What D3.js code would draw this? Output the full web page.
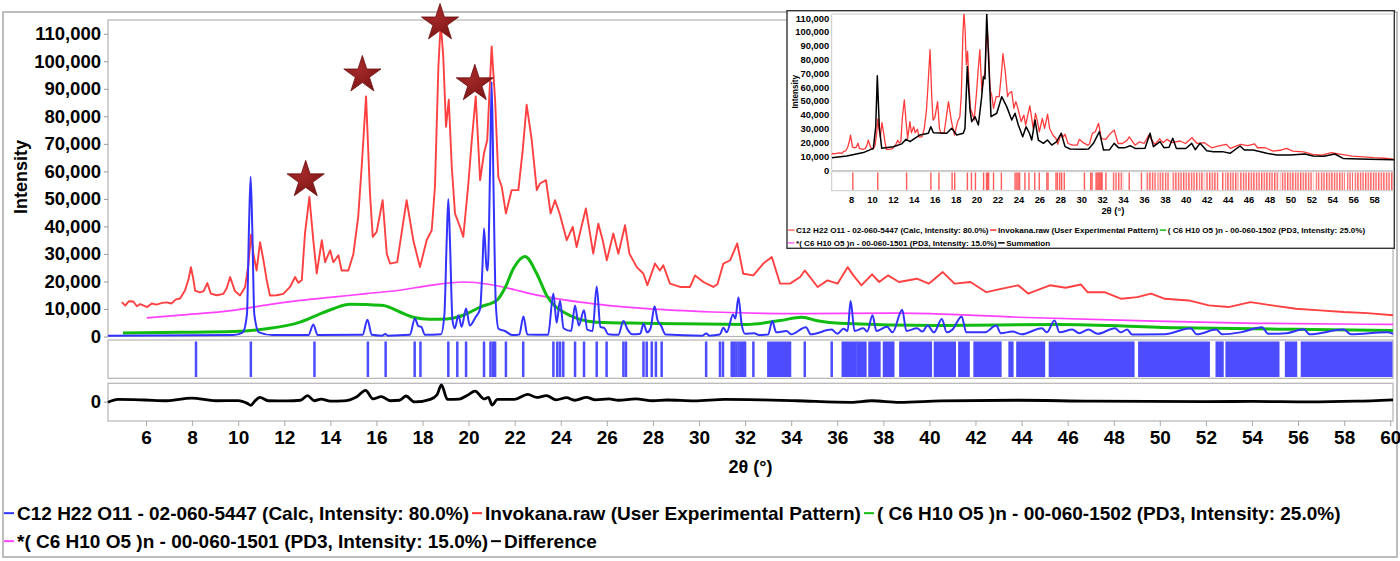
<!DOCTYPE html>
<html>
<head>
<meta charset="utf-8">
<script src="https://cdn.jsdelivr.net/npm/d3@7"></script>
<style>
  body { margin: 0; background: #fff; }
  text { font-family: "Liberation Sans", Arial, sans-serif; font-weight: bold; fill: #000; }
</style>
</head>
<body>
<script>
// ---- data (2theta in degrees, intensity in counts) ----
var experimental = [
  [4.95,12500],[5.1,11200],[5.25,12800],[5.45,12700],[5.6,11000],[5.75,11800],[5.88,11300],[6.05,10700],
  [6.25,12000],[6.46,11600],[6.7,12200],[6.9,12400],[7.1,12000],[7.3,13500],[7.48,13800],[7.69,16700],
  [7.85,21000],[7.95,25200],[8.05,21000],[8.13,16700],[8.34,16000],[8.5,16500],[8.66,19400],[8.81,15600],
  [9.07,15000],[9.36,15500],[9.5,17500],[9.65,21600],[9.86,16500],[10.08,14900],[10.3,18000],[10.44,26000],
  [10.56,37000],[10.66,30000],[10.8,24000],[10.95,34300],[11.09,28000],[11.24,20400],[11.38,14900],
  [11.67,15000],[11.96,15500],[12.25,18000],[12.47,21600],[12.61,19500],[12.76,20500],[12.9,37500],
  [13.09,50700],[13.26,35000],[13.41,22900],[13.63,35000],[13.77,27000],[13.99,31300],[14.13,27000],
  [14.35,29500],[14.49,24000],[14.78,24000],[15.0,30000],[15.21,43500],[15.36,61700],[15.55,87200],
  [15.72,52000],[15.84,36200],[16.01,38000],[16.27,49500],[16.45,30000],[16.59,26500],[16.9,27000],
  [17.1,38000],[17.31,49500],[17.6,35000],[17.89,25200],[18.18,35000],[18.4,38600],[18.54,54400],
  [18.69,98100],[18.79,114000],[18.9,101800],[19.02,76200],[19.14,86000],[19.27,61700],[19.41,44700],
  [19.63,39800],[19.77,36200],[19.99,55600],[20.14,71400],[20.31,87200],[20.5,56800],[20.67,66600],
  [20.81,71400],[21.0,105400],[21.15,86000],[21.29,58000],[21.44,54400],[21.62,44700],[21.87,53200],
  [22.16,53200],[22.35,67800],[22.52,84200],[22.74,71400],[22.96,53200],[23.1,55600],[23.36,56800],
  [23.56,44700],[23.75,49500],[23.95,44700],[24.26,35000],[24.52,39800],[24.69,32500],[24.9,40000],
  [25.09,46500],[25.27,37400],[25.41,30100],[25.63,41000],[25.82,35000],[26.0,27700],[26.28,37400],
  [26.5,30100],[26.79,40400],[26.98,30100],[27.3,25200],[27.59,22800],[27.76,18600],[28.09,26500],
  [28.3,24000],[28.45,25900],[28.74,19200],[29.18,18000],[29.61,18000],[29.83,22200],[30.19,19800],
  [30.62,18000],[30.8,19000],[31.06,26500],[31.35,27700],[31.66,33800],[31.92,22800],[32.36,22200],
  [32.79,26500],[33.16,28900],[33.52,19200],[33.95,19200],[34.39,21600],[34.59,24000],[35.15,18000],
  [35.58,20400],[36.01,19200],[36.45,25200],[36.7,22200],[37.05,18600],[37.51,22600],[37.82,19800],
  [38.2,22200],[38.68,19800],[39.46,21000],[39.97,19200],[40.58,23400],[41.09,19200],[41.78,19800],
  [42.47,16100],[43.16,17400],[43.85,18600],[44.28,15600],[45.23,18600],[45.92,17700],[46.57,18900],
  [46.86,16100],[47.6,16100],[48.33,13700],[49.02,14300],[49.62,15600],[50.22,13700],[51.26,13100],
  [52.12,11300],[52.98,10700],[53.93,12500],[54.87,11300],[55.91,10100],[56.94,9500],[57.98,8900],
  [59.01,8500],[60.12,7700]
];

var calcPattern = [
  [4.35,300],[9.8,500],[10.2,1500],[10.38,8000],[10.47,40000],[10.54,58000],[10.61,40000],[10.7,8000],
  [10.9,1500],[11.5,500],[13.05,500],[13.26,4400],[13.45,500],[15.4,600],[15.61,6100],[15.8,600],
  [16.25,300],[16.38,900],[16.5,300],[17.45,600],[17.67,6500],[17.82,3800],[17.95,3500],[18.1,600],
  [18.8,800],[18.95,8000],[19.05,35000],[19.12,50000],[19.19,35000],[19.3,6000],[19.4,3000],[19.56,7700],
  [19.7,3500],[19.89,10200],[20.05,4000],[20.3,7000],[20.5,10000],[20.6,25000],[20.67,39200],[20.78,25000],
  [20.83,24000],[20.93,60000],[21.0,92600],[21.08,55000],[21.18,12000],[21.3,2800],[21.58,2000],[21.9,500],
  [22.2,700],[22.38,7300],[22.55,700],[23.45,600],[23.68,15600],[23.82,5000],[23.97,13100],[24.12,3000],
  [24.45,2000],[24.62,11300],[24.78,4000],[25.01,9500],[25.15,2500],[25.38,2000],[25.56,18200],[25.72,3500],
  [25.9,3000],[26.05,800],[26.5,600],[26.72,5600],[26.9,2500],[27.1,800],[27.45,1000],[27.59,4600],
  [27.75,1500],[27.9,3000],[28.07,11000],[28.2,6000],[28.35,4000],[28.55,700],[30.15,300],[30.31,1100],
  [30.45,300],[30.9,700],[31.06,3200],[31.2,1500],[31.48,8000],[31.58,6500],[31.71,14300],[31.85,4500],
  [32.0,1000],[32.4,1200],[32.6,500],[33.0,700],[33.18,5600],[33.35,1500],[33.8,2000],[34.0,800],
  [34.64,3400],[34.85,800],[35.76,2500],[36.0,1000],[36.27,2800],[36.45,2000],[36.58,12900],[36.75,2000],
  [37.13,3000],[37.3,1800],[37.53,7700],[37.7,2000],[38.16,3500],[38.4,1500],[38.82,9700],[39.0,2000],
  [39.46,3000],[39.7,1800],[39.92,4000],[40.2,1500],[40.54,6400],[40.75,1500],[41.0,2500],[41.4,7300],
  [41.6,1500],[42.4,1500],[42.9,4000],[43.1,1200],[43.6,1800],[44.0,800],[44.88,3000],[45.1,1500],
  [45.43,5800],[45.65,1500],[46.2,2500],[46.5,1200],[46.9,2500],[47.3,1000],[48.06,3000],[48.3,1500],
  [48.58,2500],[48.8,700],[50.2,800],[51.34,3000],[51.6,800],[52.45,2500],[52.7,800],[53.5,1500],
  [54.44,3400],[54.7,1000],[55.5,1200],[56.25,2600],[56.5,800],[57.98,2500],[58.3,800],[59.86,1500],
  [60.12,1000]
];

var phase1502 = [
  [5.0,1300],[7.5,1500],[9.8,1800],[11.24,2800],[12.68,5200],[13.41,7700],[14.13,10100],[14.85,11700],
  [15.6,11600],[16.3,11300],[17.02,8900],[17.6,7000],[18.3,6300],[19.05,6400],[19.8,7800],[20.5,10700],
  [21.22,13100],[21.6,18000],[21.94,24600],[22.45,29100],[22.96,22800],[23.39,14900],[24.11,8900],
  [25.56,5200],[27.5,4800],[29.18,4600],[32.07,4400],[33.52,5800],[34.46,7000],[35.2,5600],[36.1,4800],
  [40.4,4000],[45.57,4400],[50.74,3200],[55.91,2600],[60.12,2200]
];

var phase1501 = [
  [6.03,6800],[7.5,7800],[9.79,9500],[11.2,11400],[12.68,13100],[14.2,14400],[15.58,15600],[17.02,16800],
  [18.33,18600],[19.77,19800],[20.93,18900],[22.0,17000],[22.67,15600],[24.84,12500],[27.73,10100],
  [30.6,8900],[34.39,8300],[38.7,8500],[43.85,7000],[49.0,5800],[54.2,4800],[60.12,4400]
];

var difference = [
  [4.35,-700],[4.78,2400],[5.94,1800],[6.91,1000],[7.97,3700],[9.04,1000],[10.0,1200],[10.4,-1800],
  [10.55,-3900],[10.7,0],[10.94,4600],[11.3,1000],[12.14,800],[12.7,1500],[13.01,6400],[13.3,1000],
  [13.6,2800],[14.0,600],[14.56,800],[15.15,5300],[15.53,12000],[15.85,3000],[16.21,5300],[16.6,1000],
  [17.0,1500],[17.28,6000],[17.65,-300],[18.34,2500],[18.63,7400],[18.82,17700],[19.08,2500],[19.6,2800],
  [19.99,7400],[20.28,11300],[20.67,3000],[20.86,4500],[21.02,-3500],[21.25,2500],[22.0,2500],
  [22.57,7800],[22.95,4500],[23.38,6400],[23.8,2000],[24.25,4200],[24.6,1500],[25.12,4500],[25.5,2000],
  [26.09,3000],[26.5,1500],[27.25,3000],[28.0,1000],[28.61,1800],[29.8,800],[31.13,2500],[32.68,2000],
  [34.23,1000],[36.6,-700],[37.5,1000],[38.7,-700],[40.5,800],[43.8,1500],[47.0,500],[52.0,0],
  [54.0,300],[56.5,-300],[58.5,500],[60.12,2000]
];

var summation = [
  [6.16,8900],[7.59,10100],[9.18,12600],[10.13,15700],[10.36,31400],[10.51,68200],[10.7,31400],
  [10.93,15700],[12.04,16900],[12.84,18900],[13.25,22300],[13.63,20500],[14.59,25400],[15.39,26600],
  [15.62,31400],[15.87,27000],[17.15,26600],[17.62,30200],[18.1,25400],[18.73,26600],[18.89,30000],
  [19.11,74900],[19.37,43500],[19.53,35000],[19.85,38600],[20.17,32600],[20.49,53100],[20.65,67600],
  [20.8,66000],[20.97,113000],[21.22,67600],[21.38,38600],[21.93,41100],[22.4,53100],[22.88,45900],
  [23.36,36200],[23.67,41100],[23.99,32600],[24.41,24100],[24.73,31400],[25.05,26600],[25.27,21700],
  [25.59,36200],[25.9,21700],[26.39,19300],[26.77,21700],[27.18,18100],[27.66,20500],[28.08,26600],
  [28.46,16900],[28.94,15200],[30.21,15000],[30.7,15200],[31.17,19300],[31.74,27800],[32.13,14500],
  [32.7,14600],[33.15,19300],[33.56,16200],[34.2,16200],[34.68,17600],[35.2,15500],[36.1,15700],
  [36.58,26600],[36.9,16900],[37.54,20500],[37.9,16200],[38.4,16500],[38.75,23000],[39.1,15600],
  [40.0,15600],[40.56,19300],[40.9,14700],[41.36,19300],[42.0,14000],[42.63,13300],[43.5,13300],
  [44.23,12100],[45.18,17400],[45.6,14500],[46.45,14500],[47.73,12100],[48.68,10900],[50.0,10900],
  [51.38,11600],[52.17,10100],[53.2,10000],[54.25,11600],[55.04,8400],[56.63,8000],[57.5,7800],[59.9,7500]
];

// reflection positions of the calculated phase
var reflections = [
  8.17,10.55,13.31,15.63,16.40,17.66,17.91,19.12,19.51,19.89,20.67,20.95,21.06,21.15,21.62,22.37,
  23.68,23.85,23.97,24.11,24.62,25.01,25.56,25.99,26.72,26.83,27.59,27.73,27.95,28.13,28.38,30.31,
  30.91,31.04,31.42,31.52,31.62,31.72,31.82,31.92,32.0,32.36,34.59,35.76
];
// stretches where the reflection lines merge into a solid band [from, to]
var reflectionBands = [
  [33.01,33.95],[36.24,36.79],[36.88,37.22],[37.40,37.83],[38.03,38.43],[38.74,40.06],[40.24,41.10],
  [41.30,41.70],[41.96,43.08],[43.48,43.60],[43.82,44.97],[45.23,48.85],[49.11,52.12],[52.47,52.72],
  [52.90,55.14],[55.48,55.91],[56.17,60.12]
];

var starMarks = [[12.93,56900],[15.39,95000],[18.76,113900],[20.27,91800]];

var mainYTicks = [0,10000,20000,30000,40000,50000,60000,70000,80000,90000,100000,110000];
var mainXTicks = [6,8,10,12,14,16,18,20,22,24,26,28,30,32,34,36,38,40,42,44,46,48,50,52,54,56,58,60];
var insetXTicks = [8,10,12,14,16,18,20,22,24,26,28,30,32,34,36,38,40,42,44,46,48,50,52,54,56,58];

var legendMain = [
  [["C12 H22 O11 - 02-060-5447 (Calc, Intensity: 80.0%)", "#3333ff"],
   ["Invokana.raw (User Experimental Pattern)", "#ff3333"],
   ["( C6 H10 O5 )n - 00-060-1502 (PD3, Intensity: 25.0%)", "#11bb11"]],
  [["*( C6 H10 O5 )n - 00-060-1501 (PD3, Intensity: 15.0%)", "#ff44ff"],
   ["Difference", "#000000"]]
];
var legendInset = [
  [["C12 H22 O11 - 02-060-5447 (Calc, Intensity: 80.0%)", "#ff7070"],
   ["Invokana.raw (User Experimental Pattern)", "#ff3333"],
   ["( C6 H10 O5 )n - 00-060-1502 (PD3, Intensity: 25.0%)", "#11bb11"]],
  [["*( C6 H10 O5 )n - 00-060-1501 (PD3, Intensity: 15.0%)", "#ff66ff"],
   ["Summation", "#000000"]]
];

// ---- drawing ----
var svg = d3.select('body').append('svg')
    .attr('width', 1400)
    .attr('height', 561);

var defs = svg.append('defs');
var pat = defs.append('pattern')
    .attr('id', 'redStripes')
    .attr('patternUnits', 'userSpaceOnUse')
    .attr('width', 2.6).attr('height', 20);
pat.append('rect').attr('width', 1.4).attr('height', 20).attr('fill', '#ff5c5c');

var grad = defs.append('radialGradient').attr('id', 'starFill')
    .attr('cx', '40%').attr('cy', '35%').attr('r', '70%');
grad.append('stop').attr('offset', '0%').attr('stop-color', '#a52a2a');
grad.append('stop').attr('offset', '100%').attr('stop-color', '#7d1414');

// outer frame
svg.append('rect')
    .attr('x', 3).attr('y', 12).attr('width', 1394).attr('height', 545)
    .attr('fill', 'none').attr('stroke', '#a8a8a8').attr('stroke-width', 1.5);

var x = d3.scaleLinear().domain([4.35, 60.12]).range([108, 1393]);
var y = d3.scaleLinear().domain([0, 115000]).range([336.5, 20]);
var yd = d3.scaleLinear().domain([-20500, 19500]).range([421, 383.3]);

var plotTop = y.range()[1], plotBottom = y.range()[0];

// panels
[[plotTop, plotBottom], [340, 378.3], [383.3, 421]].forEach(function(p) {
    svg.append('rect')
        .attr('x', x.range()[0]).attr('y', p[0])
        .attr('width', x.range()[1] - x.range()[0]).attr('height', p[1] - p[0])
        .attr('fill', 'none').attr('stroke', '#b4b4b4').attr('stroke-width', 1.2);
});

// y axis
var yAxis = svg.append('g')
    .attr('transform', 'translate(' + x.range()[0] + ',0)')
    .call(d3.axisLeft(y).tickValues(mainYTicks).tickFormat(d3.format(',')).tickSize(4).tickPadding(3));
yAxis.select('.domain').remove();
yAxis.selectAll('line').attr('stroke', '#999');
yAxis.selectAll('text').style('font-size', '18.5px').attr('font-family', null);

var dAxis = svg.append('g')
    .attr('transform', 'translate(' + x.range()[0] + ',0)')
    .call(d3.axisLeft(yd).tickValues([0]).tickSize(4).tickPadding(3));
dAxis.select('.domain').remove();
dAxis.selectAll('line').attr('stroke', '#999');
dAxis.selectAll('text').style('font-size', '18.5px').attr('font-family', null);

// x axis
var xAxis = svg.append('g')
    .attr('transform', 'translate(0,421)')
    .call(d3.axisBottom(x).tickValues(mainXTicks).tickFormat(d3.format('d')).tickSize(5).tickPadding(4.5));
xAxis.select('.domain').remove();
xAxis.selectAll('line').attr('stroke', '#aaa');
xAxis.selectAll('text').style('font-size', '19px').attr('font-family', null);

svg.append('text')
    .attr('transform', 'translate(27,177) rotate(-90)')
    .attr('text-anchor', 'middle')
    .style('font-size', '18px')
    .text('Intensity');

svg.append('text')
    .attr('x', (x.range()[0] + x.range()[1]) / 2).attr('y', 472.5)
    .attr('text-anchor', 'middle')
    .style('font-size', '18px')
    .text('2θ (°)');

// reflection bars
var tickG = svg.append('g').attr('fill', '#4d4dff');
tickG.selectAll('rect.r').data(reflections).enter().append('rect')
    .attr('x', d => x(d) - 1.25).attr('y', 341.5)
    .attr('width', 2.5).attr('height', 35.5);
tickG.selectAll('rect.b').data(reflectionBands).enter().append('rect')
    .attr('x', d => x(d[0]) - 1.25).attr('y', 341.5)
    .attr('width', d => Math.min(x(d[1]) + 1.25, x.range()[1] - 0.5) - x(d[0]) + 1.25).attr('height', 35.5);

// curves
var lineMain = d3.line().x(d => x(d[0])).y(d => y(d[1]));
var smoothMain = d3.line().curve(d3.curveMonotoneX).x(d => x(d[0])).y(d => y(d[1]));

svg.append('path').attr('d', lineMain(experimental))
    .attr('fill', 'none').attr('stroke', '#ff4040').attr('stroke-width', 1.9).attr('stroke-linejoin', 'round');
svg.append('path').attr('d', smoothMain(phase1501))
    .attr('fill', 'none').attr('stroke', '#ff40ff').attr('stroke-width', 1.7);
svg.append('path').attr('d', smoothMain(phase1502))
    .attr('fill', 'none').attr('stroke', '#11bb11').attr('stroke-width', 3);
svg.append('path').attr('d', smoothMain(calcPattern))
    .attr('fill', 'none').attr('stroke', '#3333ff').attr('stroke-width', 2).attr('stroke-linejoin', 'round');

svg.append('path')
    .attr('d', d3.line().curve(d3.curveMonotoneX).x(d => x(d[0])).y(d => yd(d[1]))(difference))
    .attr('fill', 'none').attr('stroke', '#000').attr('stroke-width', 2.8).attr('stroke-linejoin', 'round');

// stars
svg.selectAll('path.star').data(starMarks).enter().append('path')
    .attr('class', 'star')
    .attr('transform', d => 'translate(' + x(d[0]) + ',' + y(d[1]) + ')')
    .attr('d', d3.symbol(d3.symbolStar, 430))
    .attr('fill', 'url(#starFill)').attr('stroke', '#6e1010').attr('stroke-width', 0.8);

// legend helper
function drawLegend(rows, startX, baselines, fontSize, swatch, gap, swatchWidth) {
    rows.forEach(function(row, ri) {
        var cx = startX;
        row.forEach(function(item) {
            svg.append('line')
                .attr('x1', cx).attr('x2', cx + swatch)
                .attr('y1', baselines[ri] - fontSize * 0.36).attr('y2', baselines[ri] - fontSize * 0.36)
                .attr('stroke', item[1]).attr('stroke-width', swatchWidth);
            var t = svg.append('text')
                .attr('x', cx + swatch + gap).attr('y', baselines[ri])
                .style('font-size', fontSize + 'px')
                .text(item[0]);
            cx += swatch + gap + t.node().getComputedTextLength() + gap;
        });
    });
}
drawLegend(legendMain, 4, [520, 548], 19, 10, 3, 2);

// ---- inset ----
var xi = d3.scaleLinear().domain([6.15, 59.9]).range([831.7, 1394]);
var yi = d3.scaleLinear().domain([0, 113000]).range([170, 14]);

svg.append('rect')
    .attr('x', 787).attr('y', 10.7).attr('width', 607.3).attr('height', 237.6)
    .attr('fill', '#fff').attr('stroke', '#333').attr('stroke-width', 1.4);

svg.append('path')
    .attr('d', 'M' + xi.range()[0] + ',' + yi.range()[0] + 'V' + yi.range()[1] + 'H' + xi.range()[1])
    .attr('fill', 'none').attr('stroke', '#c8c8c8').attr('stroke-width', 1);
svg.append('line')
    .attr('x1', xi.range()[0]).attr('x2', xi.range()[1]).attr('y1', 170.5).attr('y2', 170.5)
    .attr('stroke', '#c8c8c8');
svg.append('rect')
    .attr('x', xi.range()[0]).attr('y', 171.7).attr('width', xi.range()[1] - xi.range()[0] - 1).attr('height', 19)
    .attr('fill', 'none').attr('stroke', '#c8c8c8');

var iyAxis = svg.append('g')
    .attr('transform', 'translate(' + xi.range()[0] + ',0)')
    .call(d3.axisLeft(yi).tickValues(mainYTicks).tickFormat(d3.format(',')).tickSize(0).tickPadding(2.5));
iyAxis.select('.domain').remove();
iyAxis.selectAll('text').style('font-size', '9.4px').attr('font-family', null);

var ixAxis = svg.append('g')
    .attr('transform', 'translate(0,190.7)')
    .call(d3.axisBottom(xi).tickValues(insetXTicks).tickFormat(d3.format('d')).tickSize(0).tickPadding(5.3));
ixAxis.select('.domain').remove();
ixAxis.selectAll('text').style('font-size', '9.4px').attr('font-family', null);

svg.append('text')
    .attr('transform', 'translate(797.5,91.7) rotate(-90)')
    .attr('text-anchor', 'middle')
    .style('font-size', '8.2px')
    .text('Intensity');
svg.append('text')
    .attr('x', (xi.range()[0] + xi.range()[1]) / 2).attr('y', 213.6)
    .attr('text-anchor', 'middle')
    .style('font-size', '9.4px')
    .text('2θ (°)');

var iTicks = svg.append('g');
iTicks.selectAll('rect.r').data(reflections).enter().append('rect')
    .attr('x', d => xi(d) - 0.7).attr('y', 172.5)
    .attr('width', 1.4).attr('height', 17.5).attr('fill', '#ff5c5c');
iTicks.selectAll('rect.b').data(reflectionBands).enter().append('rect')
    .attr('x', d => xi(d[0]) - 0.7).attr('y', 172.5)
    .attr('width', d => Math.min(xi(d[1]), xi.range()[1] - 1.5) - xi(d[0]) + 1.4).attr('height', 17.5)
    .attr('fill', 'url(#redStripes)');

var clipI = defs.append('clipPath').attr('id', 'clipInset');
clipI.append('rect').attr('x', xi.range()[0]).attr('y', yi.range()[1])
    .attr('width', xi.range()[1] - xi.range()[0]).attr('height', yi.range()[0] - yi.range()[1]);

var lineInset = d3.line().x(d => xi(d[0])).y(d => yi(d[1]));
var gi = svg.append('g').attr('clip-path', 'url(#clipInset)');
gi.append('path').attr('d', lineInset(experimental.filter(d => d[0] >= 6.0)))
    .attr('fill', 'none').attr('stroke', '#ff3a3a').attr('stroke-width', 1.3).attr('stroke-linejoin', 'round');
gi.append('path').attr('d', lineInset(summation))
    .attr('fill', 'none').attr('stroke', '#000').attr('stroke-width', 1.5).attr('stroke-linejoin', 'round');

drawLegend(legendInset, 788, [233, 245.8], 8.1, 6.5, 1.5, 1.5);
</script>
</body>
</html>
